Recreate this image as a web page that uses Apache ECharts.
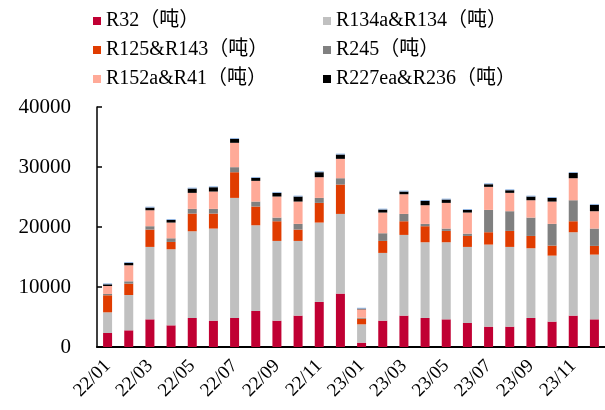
<!DOCTYPE html>
<html>
<head>
<meta charset="utf-8">
<script src="https://cdn.jsdelivr.net/npm/echarts@6/dist/echarts.min.js"></script>
<style>html,body{margin:0;padding:0;background:#fff;}#c{width:605px;height:410px;}</style>
</head>
<body>
<div id="c"></div>
<script>
const categories = ['22/01','22/02','22/03','22/04','22/05','22/06','22/07','22/08','22/09','22/10','22/11','22/12',
  '23/01','23/02','23/03','23/04','23/05','23/06','23/07','23/08','23/09','23/10','23/11','23/12'];
const r32 =      [2330,2780,4610,3610,4840,4390,4840,6000,4390,5230,7510,8900, 720,4390,5230,4840,4610,4000,3390,3390,4840,4230,5230,4610];
const r134a =    [3450,5890,12070,12680,14450,15350,20010,14290,13290,12450,13230,13280, 3060,11290,13450,12620,12850,12680,13680,13290,11620,11000,13900,10790];
const r125 =     [2840,1890,2890,1220,2950,2500,4280,3120,3280,1890,3280,4900, 950,2000,2280,2670,1890,1830,2060,2670,2050,1670,1830,1450];
const r245 =     [220,390,560,610,780,780,840,830,610,950,830,1050, 160,1280,1220,390,390,390,3720,3280,3060,3620,3500,2890];
const r152a =    [1330,2670,2660,2620,2670,2890,4060,3450,3510,3720,3450,3230, 1390,3450,3280,3110,4280,3510,3840,3060,2890,3720,3670,2890];
const r227 =     [280,390,450,440,720,720,660,500,610,840,830,720, 110,500,450,720,560,440,440,440,620,610,890,1060];
const other =    [150,150,150,150,150,150,150,150,150,150,150,150, 150,150,150,150,150,150,150,150,150,150,150,150];
const yTicks = [0,10000,20000,30000,40000];

const names = ['R32（吨）','R134a&R134（吨）','R125&R143（吨）','R245（吨）','R152a&R41（吨）','R227ea&R236（吨）','其他'];
const colors = ['#C00033','#C0C0C0','#E03C00','#808080','#FFAA98','#000000','#8DB3E2'];
const datas = [r32,r134a,r125,r245,r152a,r227,other];
const font = '"Liberation Serif","Times New Roman","Noto Sans CJK SC",serif';

const chart = echarts.init(document.getElementById('c'), null, {renderer:'canvas'});
const legendBase = {
  orient:'vertical', itemWidth:8, itemHeight:8, itemGap:9, icon:'rect',
  textStyle:{fontFamily:font, fontSize:20, color:'#000', lineHeight:20, padding:[0,0,0,0]},
  selectedMode:false, padding:0
};
chart.setOption({
  animation:false,
  backgroundColor:'#fff',
  legend:[
    Object.assign({}, legendBase, {left:93, top:11, data:[names[0],names[2],names[4]]}),
    Object.assign({}, legendBase, {left:323, top:11, data:[names[1],names[3],names[5]]})
  ],
  grid:{left:97, right:-3, top:107, bottom:63, containLabel:false},
  xAxis:{
    type:'category', data:categories,
    axisLine:{lineStyle:{color:'#000', width:2}},
    axisTick:{inside:true, length:6, interval:1, lineStyle:{color:'#000', width:2}},
    axisLabel:{interval:1, rotate:45, margin:16, fontFamily:font, fontSize:19, color:'#000'}
  },
  yAxis:{
    type:'value', min:yTicks[0], max:yTicks[yTicks.length-1], interval:10000,
    splitLine:{show:false},
    axisLine:{show:true, lineStyle:{color:'#000', width:1.5}},
    axisTick:{show:true, inside:true, length:5, lineStyle:{color:'#000', width:1.5}},
    axisLabel:{margin:26, fontFamily:font, fontSize:21, color:'#000', formatter:(v)=>String(v)}
  },
  series: datas.map((d,i)=>({
    name:names[i], type:'bar', stack:'total', data:d, barWidth:9,
    itemStyle:{color:colors[i]}
  }))
});
</script>
</body>
</html>
